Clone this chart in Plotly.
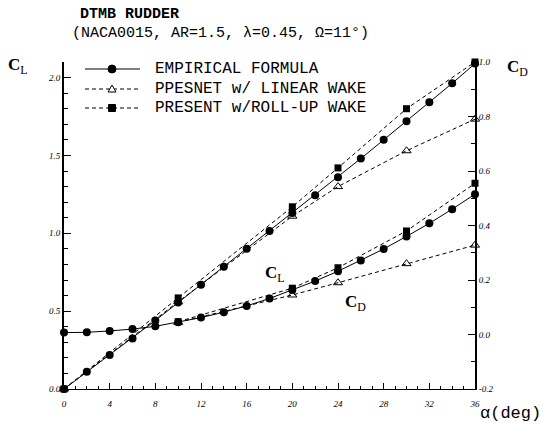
import plotly.graph_objects as go

# ---------------- data ----------------
alpha_emp = [0, 2, 4, 6, 8, 10, 12, 14, 16, 18, 20, 22, 24, 26, 28, 30, 32, 34, 36]
cl_emp = [0.0, 0.11, 0.218, 0.325, 0.44, 0.555, 0.67, 0.785, 0.90, 1.015, 1.13, 1.245, 1.36, 1.48, 1.60, 1.72, 1.842, 1.963, 2.09]
cd_emp = [0.007, 0.008, 0.013, 0.020, 0.030, 0.045, 0.062, 0.082, 0.105, 0.132, 0.163, 0.196, 0.232, 0.272, 0.314, 0.360, 0.408, 0.460, 0.515]

alpha_th = [0, 10, 20, 24, 30, 36]
cl_lin = [0.0, 0.56, 1.11, 1.30, 1.53, 1.733]
cl_roll = [0.0, 0.585, 1.17, 1.42, 1.80, 2.10]
alpha_th_cd = [10, 20, 24, 30, 36]
cd_lin = [0.045, 0.145, 0.19, 0.26, 0.328]
cd_roll = [0.047, 0.17, 0.245, 0.38, 0.555]

x_ticks = [0, 4, 8, 12, 16, 20, 24, 28, 32, 36]
cl_ticks = [0.0, 0.5, 1.0, 1.5, 2.0]
cl_tick_text = ["0.0", "0.5", "1.0", "1.5", "2.0"]
cd_ticks = [-0.2, 0.0, 0.2, 0.4, 0.6, 0.8, 1.0]
cd_tick_text = ["-0.2", "0.0", "0.2", "0.4", "0.6", "0.8", "1.0"]

names = ["EMPIRICAL FORMULA", "PPESNET w/ LINEAR WAKE", "PRESENT w/ROLL-UP WAKE"]

# ---------------- layout geometry ----------------
W, H = 554, 423
L, R, T, B = 64, 79, 62, 34
PW, PH = W - L - R, H - T - B


def px(xp):
    return (xp - L) / PW


def py(yp):
    return (H - B - yp) / PH


blk = "black"
mono = "Liberation Mono"
dash = "4px,3px"

fig = go.Figure()

# CL curves
fig.add_trace(go.Scatter(x=alpha_emp, y=cl_emp, mode="lines+markers", name=names[0],
                         line=dict(color=blk, width=1),
                         marker=dict(symbol="circle", size=8, color=blk), cliponaxis=False))
fig.add_trace(go.Scatter(x=alpha_th, y=cl_lin, mode="lines+markers", name=names[1],
                         line=dict(color=blk, width=1, dash=dash),
                         marker=dict(symbol="triangle-up-open", size=8, color=blk),
                         cliponaxis=False))
fig.add_trace(go.Scatter(x=alpha_th, y=cl_roll, mode="lines+markers", name=names[2],
                         line=dict(color=blk, width=1, dash=dash),
                         marker=dict(symbol="square", size=7, color=blk), cliponaxis=False))

# CD curves
fig.add_trace(go.Scatter(x=alpha_emp, y=cd_emp, mode="lines+markers", yaxis="y2",
                         line=dict(color=blk, width=1),
                         marker=dict(symbol="circle", size=8, color=blk), cliponaxis=False))
fig.add_trace(go.Scatter(x=alpha_th_cd, y=cd_lin, mode="lines+markers", yaxis="y2",
                         line=dict(color=blk, width=1, dash=dash),
                         marker=dict(symbol="triangle-up-open", size=8, color=blk),
                         cliponaxis=False))
fig.add_trace(go.Scatter(x=alpha_th_cd, y=cd_roll, mode="lines+markers", yaxis="y2",
                         line=dict(color=blk, width=1, dash=dash),
                         marker=dict(symbol="square", size=7, color=blk), cliponaxis=False))

tickfont = dict(family="Liberation Serif", size=9, color=blk, style="italic")

fig.update_layout(
    width=W, height=H,
    margin=dict(l=L, r=R, t=T, b=B),
    paper_bgcolor="white", plot_bgcolor="white",
    showlegend=False,
    xaxis=dict(range=[0, 36], tickvals=x_ticks, ticktext=[str(v) for v in x_ticks],
               ticks="inside", ticklen=6, tickwidth=1, tickcolor=blk,
               minor=dict(dtick=1, ticks="inside", ticklen=3, tickcolor=blk),
               showline=True, linecolor=blk, linewidth=1, showgrid=False, zeroline=False,
               tickfont=tickfont, ticklabelstandoff=6),
    yaxis=dict(range=[0, 2.1], tickvals=cl_ticks, ticktext=cl_tick_text,
               ticks="inside", ticklen=7, tickwidth=1, tickcolor=blk,
               minor=dict(dtick=0.1, ticks="inside", ticklen=4, tickcolor=blk),
               showline=True, linecolor=blk, linewidth=2, showgrid=False, zeroline=False,
               tickfont=tickfont),
    yaxis2=dict(range=[-0.2, 1.0], tickvals=cd_ticks, ticktext=cd_tick_text,
                overlaying="y", side="right",
                ticks="inside", ticklen=7, tickwidth=1, tickcolor=blk,
                minor=dict(dtick=0.1, ticks="inside", ticklen=4, tickcolor=blk),
                showline=True, linecolor=blk, linewidth=2, showgrid=False, zeroline=False,
                tickfont=tickfont),
)

# ---------------- manual legend ----------------
rows = [69, 89, 108]
line_x0, line_x1, mark_x, text_x = 85, 140, 112, 153
styles = [("solid", "circle"), (dash, "triangle"), (dash, "square")]
for name, ry, (ds, mk) in zip(names, rows, styles):
    fig.add_shape(type="line", xref="paper", yref="paper",
                  x0=px(line_x0), x1=px(line_x1), y0=py(ry), y1=py(ry),
                  line=dict(color=blk, width=1, dash=ds))
    common = dict(xref="paper", yref="paper", xsizemode="pixel", ysizemode="pixel",
                  xanchor=px(mark_x), yanchor=py(ry))
    if mk == "circle":
        fig.add_shape(type="circle", x0=-4, x1=4, y0=-4, y1=4, fillcolor=blk,
                      line=dict(color=blk, width=1), **common)
    elif mk == "square":
        fig.add_shape(type="rect", x0=-3.5, x1=3.5, y0=-3.5, y1=3.5, fillcolor=blk,
                      line=dict(color=blk, width=1), **common)
    else:
        fig.add_shape(type="path", path="M-4,-3 L4,-3 L0,4 Z", fillcolor="white",
                      line=dict(color=blk, width=1), **common)
    fig.add_annotation(text=name, xref="paper", yref="paper", x=px(text_x), y=py(ry),
                       xanchor="left", yanchor="middle", showarrow=False,
                       font=dict(family=mono, size=16, color=blk))

# ---------------- texts ----------------
ann_font = dict(family="Liberation Serif", size=17, color=blk)
fig.add_annotation(text="<b>DTMB RUDDER</b>", xref="paper", yref="paper", x=px(78), y=py(15),
                   xanchor="left", yanchor="middle", showarrow=False,
                   font=dict(family=mono, size=15, color=blk))
fig.add_annotation(text="(NACA0015, AR=1.5, \u03bb=0.45, \u03a9=11\u00b0)", xref="paper", yref="paper",
                   x=px(70), y=py(34), xanchor="left", yanchor="middle", showarrow=False,
                   font=dict(family=mono, size=15, color=blk))
fig.add_annotation(text="<b>C</b><sub>L</sub>", xref="paper", yref="paper", x=px(18), y=py(66),
                   xanchor="center", yanchor="middle", showarrow=False, font=ann_font)
fig.add_annotation(text="<b>C</b><sub>D</sub>", xref="paper", yref="paper", x=px(517), y=py(68),
                   xanchor="center", yanchor="middle", showarrow=False, font=ann_font)
fig.add_annotation(text="<b>C</b><sub>L</sub>", x=18.5, y=0.74, xref="x", yref="y",
                   showarrow=False, font=ann_font)
fig.add_annotation(text="<b>C</b><sub>D</sub>", x=25.5, y=0.55, xref="x", yref="y",
                   showarrow=False, font=ann_font)
fig.add_annotation(text="\u03b1(deg)", xref="paper", yref="paper", x=px(478), y=py(413),
                   xanchor="left", yanchor="middle", showarrow=False,
                   font=dict(family=mono, size=17, color=blk))

fig.write_html("out.html")
